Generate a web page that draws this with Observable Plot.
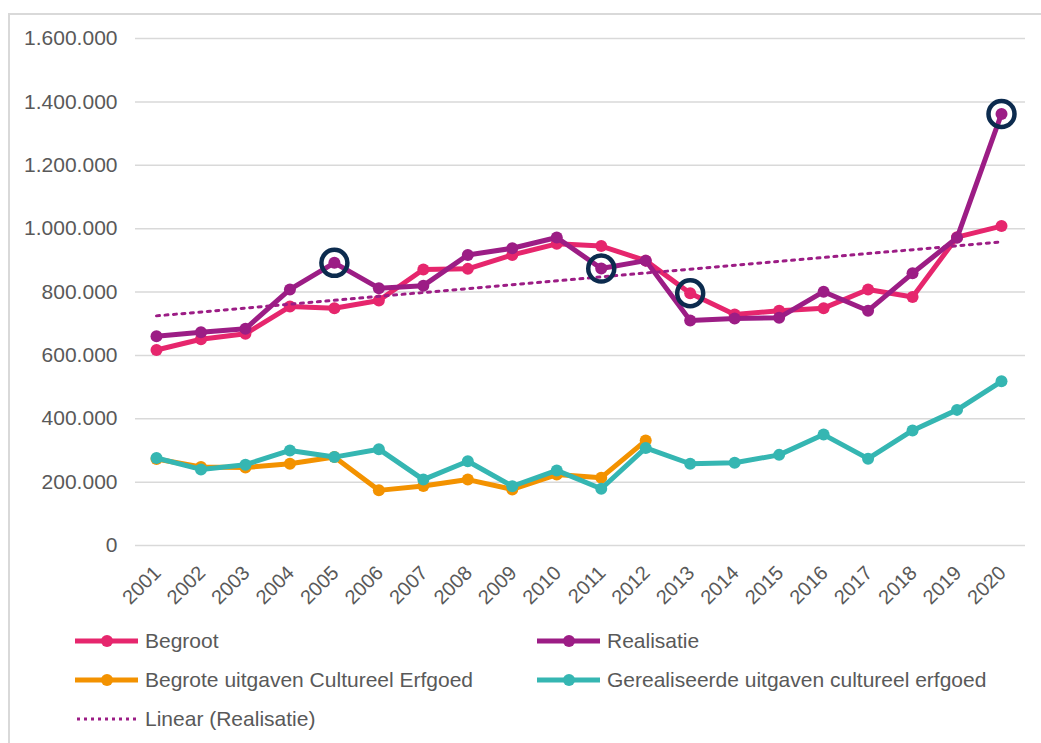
<!DOCTYPE html>
<html><head><meta charset="utf-8">
<script src="https://cdn.jsdelivr.net/npm/d3@7"></script>
<script src="https://cdn.jsdelivr.net/npm/@observablehq/plot@0.6"></script>
<style>
body{margin:0;background:#fff;font-family:"Liberation Sans",Arial,sans-serif;}
#wrap{position:relative;width:1041px;height:743px;overflow:hidden;background:#fff;}
#frame{position:absolute;left:8px;top:13px;width:1100px;height:800px;border-left:2px solid #d9d9d9;border-top:2px solid #d9d9d9;}
#chart{position:absolute;left:0;top:0;}
.item{position:absolute;display:flex;align-items:center;height:30px;font-size:21px;color:#595959;white-space:nowrap;}
.item svg{display:block;margin-right:7px;}
</style></head>
<body><div id="wrap"><div id="frame"></div><div id="chart"></div><div id="legend"></div></div>
<script>
const years = [2001,2002,2003,2004,2005,2006,2007,2008,2009,2010,2011,2012,2013,2014,2015,2016,2017,2018,2019,2020];
const begroot = [617000,651000,668000,754000,749000,773000,871000,873000,917000,952000,945000,899000,796000,729000,741000,749000,808000,784000,973000,1008000];
const realisatie = [660000,673000,684000,808000,892000,812000,820000,917000,938000,972000,874000,899000,710000,716000,719000,801000,741000,859000,971000,1362000];
const begroteCE = [273000,248000,246000,258000,279000,174000,188000,208000,177000,224000,214000,331000,null,null,null,null,null,null,null,null];
const gerealiseerdCE = [276000,240000,255000,300000,279000,304000,208000,266000,187000,237000,179000,308000,258000,261000,286000,350000,274000,363000,428000,518000];
const yTicks = [0,200000,400000,600000,800000,1000000,1200000,1400000,1600000];
const seriesNames = ["Begroot","Realisatie","Begrote uitgaven Cultureel Erfgoed","Gerealiseerde uitgaven cultureel erfgoed"];
const trendName = "Linear (Realisatie)";
const colors = ["#e6266d","#9c1d85","#f39200","#35b6b2"];
const ringColor = "#0c2b4e";
const highlights = [["Realisatie",2005],["Realisatie",2011],["Begroot",2013],["Realisatie",2020]];

const seriesValues = [begroot, realisatie, begroteCE, gerealiseerdCE];
const rows = seriesNames.map((name, i) =>
  years.map((year, j) => ({series: name, year, value: seriesValues[i][j]})).filter(d => d.value != null)
);
const allRows = rows.flat();
const ringRows = highlights.map(([s, y]) => allRows.find(d => d.series === s && d.year === y));

const fmt = d => d3.format(",")(d).replace(/,/g, ".");

const marks = [
  Plot.gridY(yTicks, {stroke:"#d9d9d9", strokeOpacity:1, strokeWidth:1.5}),
  Plot.axisY(yTicks, {tickSize:0, tickPadding:18, tickFormat: fmt, fontSize:21, fill:"#595959", label:null}),
  Plot.text(years, {x: d => d, y: d => 0, text: d => String(d), rotate:-45, textAnchor:"end", lineAnchor:"middle", dx:1, dy:24, fontSize:20, fill:"#595959"})
];
rows.forEach((r, i) => {
  marks.push(Plot.line(r, {x:"year", y:"value", stroke: colors[i], strokeWidth:5, strokeLinejoin:"round"}));
  marks.push(Plot.dot(r, {x:"year", y:"value", fill: colors[i], r:6}));
});
marks.push(Plot.linearRegressionY(rows[1], {x:"year", y:"value", stroke: colors[1], strokeWidth:3, strokeDasharray:"3 5.5", ci:0}));
marks.push(Plot.dot(ringRows, {x:"year", y:"value", r:13, stroke: ringColor, strokeWidth:4.5, fill:"none"}));

const chart = Plot.plot({
  width:1041, height:600,
  marginLeft:135, marginRight:16, marginTop:38, marginBottom:55,
  style:{fontFamily:"Liberation Sans, Arial, sans-serif", fontSize:"21px", color:"#595959", background:"transparent", overflow:"visible"},
  x:{domain:[2001,2020], insetLeft:21, insetRight:24, axis:null},
  y:{domain:[0,1600000]},
  marks
});
document.getElementById("chart").appendChild(chart);

// legend
const legend = document.getElementById("legend");
const legendItems = [
  {name: seriesNames[0], color: colors[0], left:75, cy:641, dotted:false},
  {name: seriesNames[1], color: colors[1], left:537, cy:641, dotted:false},
  {name: seriesNames[2], color: colors[2], left:75, cy:680, dotted:false},
  {name: seriesNames[3], color: colors[3], left:537, cy:680, dotted:false},
  {name: trendName, color: colors[1], left:75, cy:719, dotted:true}
];
legendItems.forEach(it => {
  const div = document.createElement("div");
  div.className = "item";
  div.style.left = it.left + "px";
  div.style.top = (it.cy - 15) + "px";
  const sym = it.dotted
    ? `<svg width="63" height="30"><line x1="2" x2="63" y1="15" y2="15" stroke="${it.color}" stroke-width="3" stroke-dasharray="3 4"/></svg>`
    : `<svg width="63" height="30"><line x1="0" x2="63" y1="15" y2="15" stroke="${it.color}" stroke-width="5"/><circle cx="32" cy="15" r="6" fill="${it.color}"/></svg>`;
  div.innerHTML = sym + `<span>${it.name}</span>`;
  legend.appendChild(div);
});
</script>
</body></html>
